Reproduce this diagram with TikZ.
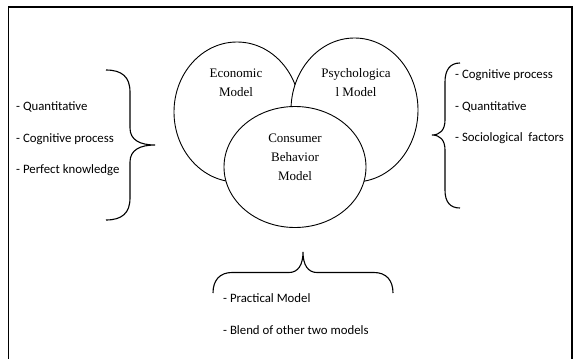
\documentclass[tikz,border=0pt]{standalone}
\usepackage{fontspec}
\setmainfont{Carlito}
\newfontfamily\modelfont{Liberation Serif}
\usetikzlibrary{shapes.geometric}
\begin{document}
\begin{tikzpicture}[x=1pt,y=-1pt,
  model/.style={ellipse, draw, fill=white, line width=0.9pt, inner sep=0pt},
  modeltext/.style={font=\modelfont\fontsize{13}{19.2}\selectfont, align=center, inner sep=0pt},
  item/.style={font=\fontsize{12.8}{15}\selectfont, anchor=west, inner sep=0pt},
  bracket/.style={line width=1.1pt, line join=miter}
]
\useasboundingbox (0,0) rectangle (579,359);
\clip (0,0) rectangle (579,359);
% outer frame, open past the lower edge
\draw[line width=1.6pt] (8.5,372) -- (8.5,7) -- (572,7) -- (572,372);

% the three overlapping models
\node[model, minimum width=126, minimum height=140] (econ) at (237,112) {};
\node[model, minimum width=127, minimum height=144] (psych) at (354.5,110) {};
\node[model, minimum width=142, minimum height=121] (cons) at (295,167) {};

\node[modeltext] (econtext) at (236,82.5) {Economic\\Model};
\node[modeltext] (psychtext) at (356,82.5) {Psychologica\\l Model};
\node[modeltext] (constext) at (295,157.5) {Consumer\\Behavior\\Model};

% economic model traits
\node[item] (l1) at (16,106.7) {- Quantitative};
\node[item] (l2) at (16,138.7) {- Cognitive process};
\node[item] (l3) at (16,170.3) {- Perfect knowledge};

% psychological model traits
\node[item] (r1) at (455,75) {- Cognitive process};
\node[item] (r2) at (455,106.7) {- Quantitative};
\node[item] (r3) at (455,138.3) {- Sociological\hspace{0.45em}factors};

% consumer behavior model traits
\node[item] (b1) at (223,298.5) {- Practical Model};
\node[item] (b2) at (223,330) {- Blend of other two models};

% braces
\draw[bracket] (106,70) .. controls (122,70) and (130,77) .. (130,92)
  -- (130,128) .. controls (130,140) and (140,145) .. (155,145)
  .. controls (140,145) and (130,150) .. (130,162)
  -- (130,198) .. controls (130,213) and (122,220) .. (106,220);
\draw[bracket] (460,63) .. controls (450,63) and (445,70) .. (445,82)
  -- (445,120) .. controls (445,130) and (440,135) .. (432,135)
  .. controls (440,135) and (445,140) .. (445,150)
  -- (445,190) .. controls (445,202) and (450,208) .. (460,208);
\draw[bracket] (213,293) .. controls (213,280) and (220,272.5) .. (232,272.5)
  -- (289,272.5) .. controls (298,272.5) and (303,265) .. (303,252)
  .. controls (303,265) and (308,272.5) .. (317,272.5)
  -- (374,272.5) .. controls (386,272.5) and (393,280) .. (393,293);
\end{tikzpicture}
\end{document}
